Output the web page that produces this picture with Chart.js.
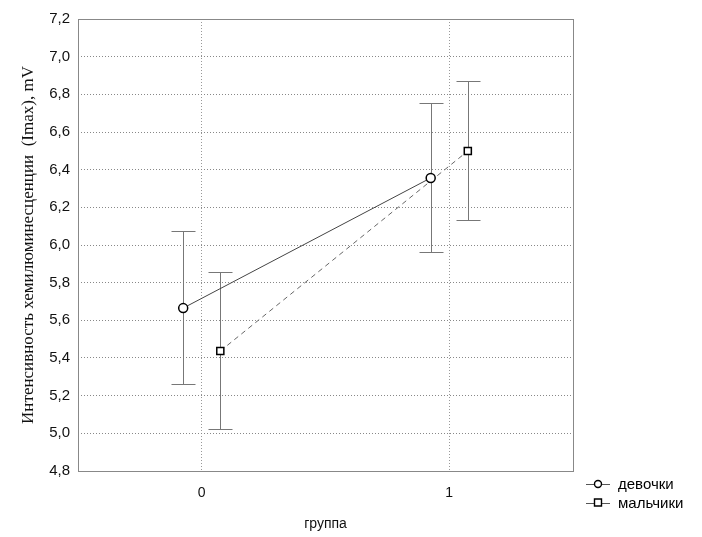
<!DOCTYPE html>
<html>
<head>
<meta charset="utf-8">
<script src="https://cdn.jsdelivr.net/npm/chart.js@4"></script>
<style>
  html, body { margin: 0; padding: 0; background: #fff; }
  #wrap { width: 702px; height: 537px; }
</style>
</head>
<body>
<div id="wrap"><canvas id="chart" width="702" height="537"></canvas></div>
<script>
const groups = [0, 1];
const seriesNames = ['девочки', 'мальчики'];
const girlsMean = [5.665, 6.356];
const girlsLow = [5.262, 5.963];
const girlsHigh = [6.074, 6.754];
const boysMean = [5.437, 6.499];
const boysLow = [5.023, 6.133];
const boysHigh = [5.856, 6.871];
const groupOffset = [-0.075, 0.075]; // girls left, boys right
const yTicks = [4.8, 5.0, 5.2, 5.4, 5.6, 5.8, 6.0, 6.2, 6.4, 6.6, 6.8, 7.0, 7.2];

const comma = v => v.toFixed(1).replace('.', ',');

function points(means, off) {
    return groups.map((g, i) => ({ x: g + off, y: means[i] }));
}

// error bars drawn through the scales
const errorBars = {
    id: 'errorBars',
    beforeDatasetsDraw(chart) {
        const { ctx, scales: { x, y } } = chart;
        const sets = [[girlsLow, girlsHigh, groupOffset[0]], [boysLow, boysHigh, groupOffset[1]]];
        ctx.save();
        ctx.strokeStyle = '#777';
        ctx.lineWidth = 1;
        sets.forEach(([lo, hi, off]) => {
            groups.forEach((g, i) => {
                const px = Math.round(x.getPixelForValue(g + off)) + 0.5;
                const top = Math.round(y.getPixelForValue(hi[i])) + 0.5;
                const bot = Math.round(y.getPixelForValue(lo[i])) + 0.5;
                ctx.beginPath();
                ctx.moveTo(px, top); ctx.lineTo(px, bot);
                ctx.moveTo(px - 12, top); ctx.lineTo(px + 12, top);
                ctx.moveTo(px - 12, bot); ctx.lineTo(px + 12, bot);
                ctx.stroke();
            });
        });
        ctx.restore();
    }
};

// plot frame and legend
const frameAndLegend = {
    id: 'frameAndLegend',
    beforeDatasetsDraw(chart) {
        const { ctx, chartArea: a } = chart;
        ctx.save();
        ctx.strokeStyle = '#888';
        ctx.lineWidth = 1;
        ctx.strokeRect(Math.round(a.left) + 0.5, Math.round(a.top) + 0.5,
            Math.round(a.right - a.left), Math.round(a.bottom - a.top));
        ctx.restore();
    },
    afterDraw(chart) {
        const { ctx } = chart;
        ctx.save();
        ctx.font = '15px "Liberation Sans", Arial, sans-serif';
        ctx.textBaseline = 'middle';
        seriesNames.forEach((name, i) => {
            const cy = 484 + i * 18.5;
            const cx = 598;
            ctx.strokeStyle = '#555';
            ctx.lineWidth = 1;
            ctx.beginPath();
            ctx.moveTo(cx - 12, Math.round(cy) + 0.5); ctx.lineTo(cx - 4, Math.round(cy) + 0.5);
            ctx.moveTo(cx + 4, Math.round(cy) + 0.5); ctx.lineTo(cx + 12, Math.round(cy) + 0.5);
            ctx.stroke();
            ctx.strokeStyle = '#000';
            ctx.lineWidth = 1.4;
            ctx.fillStyle = '#fff';
            ctx.beginPath();
            if (i === 0) ctx.arc(cx, cy, 3.5, 0, Math.PI * 2);
            else ctx.rect(cx - 3.5, cy - 3.5, 7, 7);
            ctx.fill(); ctx.stroke();
            ctx.fillStyle = '#000';
            ctx.fillText(name, cx + 20, cy + 1);
        });
        ctx.restore();
    }
};

new Chart(document.getElementById('chart'), {
    type: 'scatter',
    data: {
        datasets: [{
            label: seriesNames[0],
            data: points(girlsMean, groupOffset[0]),
            showLine: true,
            borderColor: '#444',
            borderWidth: 1,
            pointStyle: 'circle',
            pointRadius: 4.5,
            pointBorderWidth: 1.5,
            pointBorderColor: '#000',
            pointBackgroundColor: '#fff'
        }, {
            label: seriesNames[1],
            data: points(boysMean, groupOffset[1]),
            showLine: true,
            borderColor: '#666',
            borderWidth: 1,
            borderDash: [5, 4],
            pointStyle: 'rect',
            pointRadius: 5,
            pointBorderWidth: 1.5,
            pointBorderColor: '#000',
            pointBackgroundColor: '#fff'
        }]
    },
    options: {
        responsive: false,
        animation: false,
        layout: { padding: { top: 19, right: 129, left: 0, bottom: 0 } },
        plugins: {
            legend: { display: false },
            tooltip: { enabled: false }
        },
        scales: {
            x: {
                type: 'linear',
                min: -0.5,
                max: 1.5,
                afterBuildTicks: scale => { scale.ticks = groups.map(v => ({ value: v })); },
                afterFit: scale => { scale.height = 66; },
                border: { display: false, dash: [1, 2] },
                grid: { color: '#999', drawTicks: false },
                ticks: {
                    color: '#111',
                    padding: 14,
                    font: { family: '"Liberation Sans", Arial, sans-serif', size: 14 },
                    callback: v => String(v)
                },
                title: {
                    display: true,
                    text: 'группа',
                    color: '#111',
                    padding: { top: 5 },
                    font: { family: '"Liberation Sans", Arial, sans-serif', size: 14 }
                }
            },
            y: {
                min: 4.8,
                max: 7.2,
                afterBuildTicks: scale => { scale.ticks = yTicks.map(v => ({ value: v })); },
                afterFit: scale => { scale.width = 78; },
                border: { display: false, dash: [1, 2] },
                grid: { color: '#888', drawTicks: false },
                ticks: {
                    color: '#111',
                    padding: 8,
                    font: { family: '"Liberation Sans", Arial, sans-serif', size: 15 },
                    callback: v => comma(v)
                },
                title: {
                    display: true,
                    text: 'Интенсивность хемилюминесценции  (Imax), mV',
                    color: '#111',
                    padding: { top: 18, bottom: 0 },
                    font: { family: '"Liberation Serif", "Times New Roman", serif', size: 17 }
                }
            }
        }
    },
    plugins: [frameAndLegend, errorBars]
});
</script>
</body>
</html>
